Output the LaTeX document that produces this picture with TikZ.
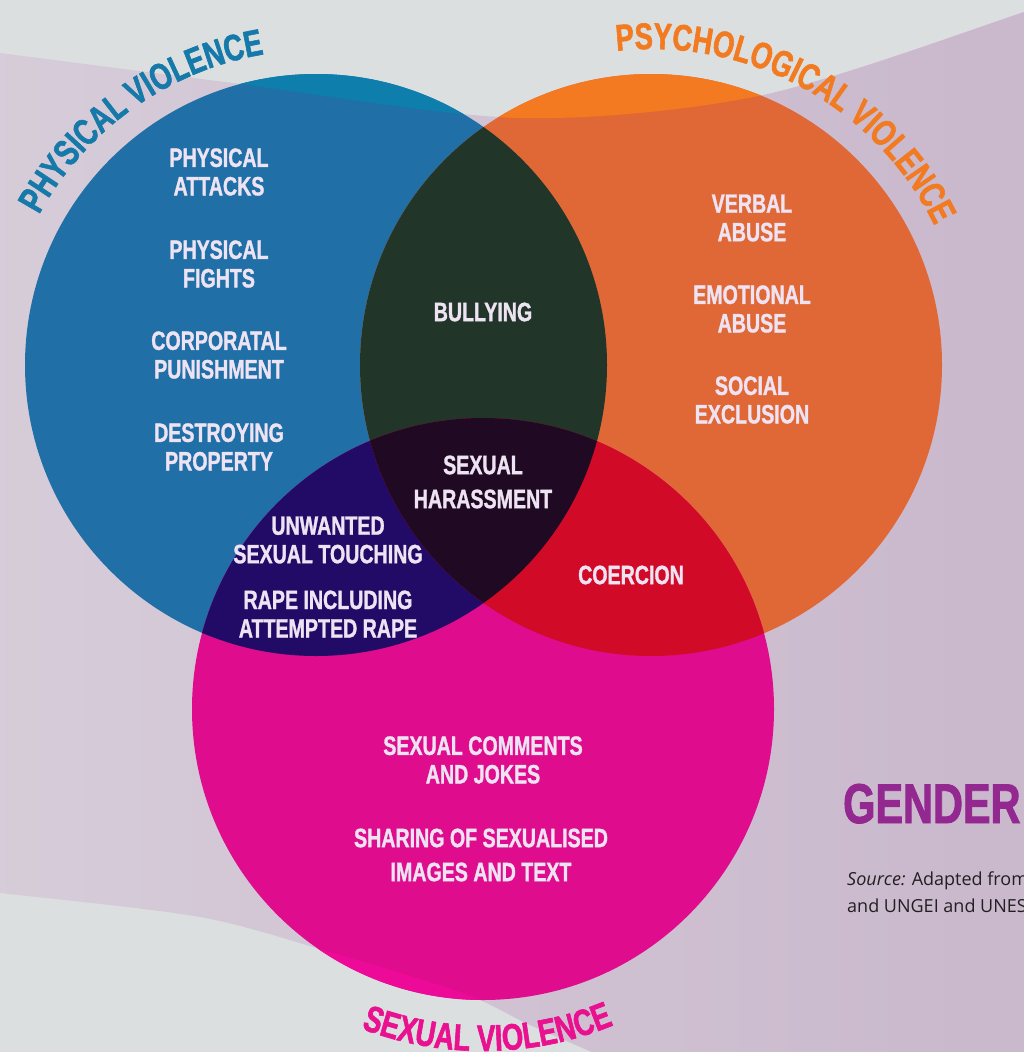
\documentclass[tikz,border=0pt]{standalone}
\usepackage{fontspec}
\usetikzlibrary{calc,decorations.text}
\newfontfamily\condfont[FakeStretch=0.74,FakeBold=1.2]{Liberation Sans Bold}
\newfontfamily\titlefont[FakeStretch=0.74,FakeBold=1.6]{Liberation Sans Bold}
\newfontfamily\srcfont{Open Sans}
\definecolor{bggray}{HTML}{DCDFE0}
\definecolor{lavL}{HTML}{D7CDD9}
\definecolor{lavR}{HTML}{C9B7CC}
\definecolor{blueL}{HTML}{2070A7}
\definecolor{blueG}{HTML}{0E7FAC}
\definecolor{orangeL}{HTML}{E06836}
\definecolor{orangeG}{HTML}{F47A22}
\definecolor{pinkL}{HTML}{DF0C8D}
\definecolor{pinkG}{HTML}{EE0A98}
\definecolor{greenI}{HTML}{213628}
\definecolor{indigoI}{HTML}{210B66}
\definecolor{redI}{HTML}{D10A28}
\definecolor{darkI}{HTML}{200A23}
\definecolor{txtc}{HTML}{EEE3F2}
\definecolor{tblue}{HTML}{1579A9}
\definecolor{torange}{HTML}{F27B22}
\definecolor{tpink}{HTML}{E9118F}
\definecolor{gendercol}{HTML}{932890}
\definecolor{srccol}{HTML}{231F20}
\begin{document}
\begin{tikzpicture}[x=1pt,y=1pt,
  inner/.style={text=txtc, font=\condfont\fontsize{26.5}{28.5}\selectfont, align=center, inner sep=0pt},
  srcline/.style={text=srccol, font=\srcfont\fontsize{18}{20}\selectfont, inner sep=0pt, anchor=base west}]
\useasboundingbox (0,0) rectangle (1024,-1052);
\coordinate (bc) at (316,-365);
\coordinate (oc) at (651,-365);
\coordinate (pc) at (483,-709);
\def\R{291}
% background
\fill[bggray] (-10,10) rectangle (1040,-1065);
\shade[left color=lavL, right color=lavR]
  plot[smooth] coordinates {(-10,-52) (0,-53) (233,-83) (520,-118) (763,-95) (1024,-12) (1040,-5)}
  -- (1040,-1065) -- (617,-1065)
  -- plot[smooth] coordinates {(615,-1062) (530,-1025) (463,-993) (333,-953) (200,-917) (0,-893) (-10,-892)}
  -- cycle;
% circles on lavender
\fill[blueL] (bc) circle (\R);
\fill[orangeL] (oc) circle (\R);
\fill[pinkL] (pc) circle (\R);
% parts over the gray top
\begin{scope}
  \clip (-10,10) -- plot[smooth] coordinates {(-10,-52) (0,-53) (233,-83) (520,-118) (763,-95) (1024,-12) (1040,-5)} -- (1040,10) -- cycle;
  \fill[blueG] (bc) circle (\R);
  \fill[orangeG] (oc) circle (\R);
\end{scope}
% part over the gray bottom
\begin{scope}
  \clip plot[smooth] coordinates {(-10,-892) (0,-893) (200,-917) (333,-953) (463,-993) (530,-1025) (615,-1062)} -- (617,-1065) -- (-10,-1065) -- cycle;
  \fill[pinkG] (pc) circle (\R);
\end{scope}
% intersections
\begin{scope}
  \clip (bc) circle (\R);
  \fill[greenI] (oc) circle (\R);
  \fill[indigoI] (pc) circle (\R);
\end{scope}
\begin{scope}
  \clip (oc) circle (\R);
  \fill[redI] (pc) circle (\R);
\end{scope}
\begin{scope}
  \clip (bc) circle (\R);
  \clip (oc) circle (\R);
  \fill[darkI] (pc) circle (\R);
\end{scope}
% curved titles
\path[decorate, decoration={text along path, text align=center,
  text={|\titlefont\fontsize{37}{37}\selectfont\color{tblue}|PHYSICAL VIOLENCE}}]
  ($(bc)+(170.5:315)$) arc[start angle=170.5, end angle=80.5, radius=315];
\path[decorate, decoration={text along path, text align=center,
  text={|\titlefont\fontsize{37}{37}\selectfont\color{torange}|PSYCHOLOGICAL VIOLENCE}}]
  ($(oc)+(111.2:316)$) arc[start angle=111.2, end angle=11.2, radius=316];
\path[decorate, decoration={text along path, text align=center,
  text={|\titlefont\fontsize{37}{37}\selectfont\color{tpink}|SEXUAL VIOLENCE}}]
  ($(pc)+(235.8:342)$) arc[start angle=235.8, end angle=305.8, radius=342];
% inner texts
\node[inner] (pa) at (219,-172) {PHYSICAL\\ATTACKS};
\node[inner] (pf) at (219,-264) {PHYSICAL\\FIGHTS};
\node[inner] (cp) at (219,-355) {CORPORATAL\\PUNISHMENT};
\node[inner] (dp) at (219,-447) {DESTROYING\\PROPERTY};
\node[inner] (bu) at (483,-312) {BULLYING};
\node[inner] (va) at (752,-218) {VERBAL\\ABUSE};
\node[inner] (ea) at (752,-309) {EMOTIONAL\\ABUSE};
\node[inner] (se) at (752,-400) {SOCIAL\\EXCLUSION};
\node[inner] (sh) at (483,-482) {SEXUAL\\[5.5pt]HARASSMENT};
\node[inner] (ut) at (328,-540) {UNWANTED\\SEXUAL TOUCHING};
\node[inner] (ri) at (328,-614) {RAPE INCLUDING\\ATTEMPTED RAPE};
\node[inner] (co) at (631,-575) {COERCION};
\node[inner] (sc) at (483,-760) {SEXUAL COMMENTS\\AND JOKES};
\node[inner] (si) at (481,-855) {SHARING OF SEXUALISED\\[5.5pt]IMAGES AND TEXT};
% right side texts
\node[text=gendercol, font=\titlefont\fontsize{56}{56}\selectfont, inner sep=0pt, anchor=base west] (gd) at (843,-823) {GENDER};
\node[srcline] (s1) at (847,-885) {\itshape Source:\upshape{} Adapted from};
\node[srcline] (s2) at (847,-912) {and UNGEI and UNES};
\end{tikzpicture}
\end{document}
